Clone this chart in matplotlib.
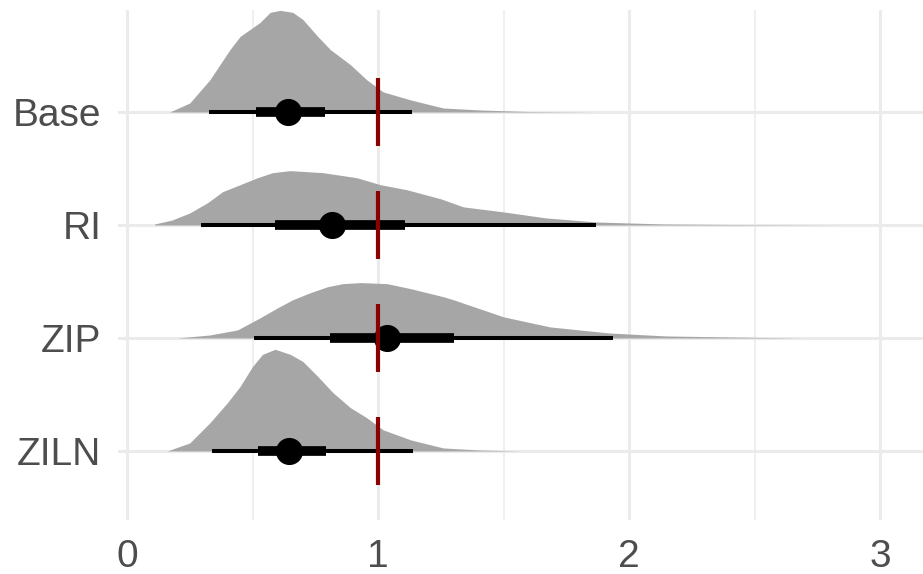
import numpy as np
import matplotlib
matplotlib.use("Agg")
import matplotlib.pyplot as plt

plt.rcParams["font.family"] = ["Liberation Sans", "DejaVu Sans"]

models = ["Base", "RI", "ZIP", "ZILN"]

# density curves (x, relative height)
base_x = [0.17, 0.25, 0.33, 0.41, 0.45, 0.49, 0.53, 0.57, 0.61, 0.66, 0.70, 0.76,
          0.81, 0.89, 0.955, 1.02, 1.13, 1.26, 1.41, 1.60, 1.87]
base_d = [0, 9, 32, 62, 75, 82, 89, 99, 101, 99, 92, 75, 62, 47, 32, 20, 12, 4, 2, 0.5, 0]

ri_x = [0.11, 0.18, 0.25, 0.32, 0.38, 0.45, 0.52, 0.58, 0.65, 0.78, 0.915, 1.01,
        1.115, 1.25, 1.34, 1.50, 1.67, 1.87, 2.14, 2.40, 2.85]
ri_d = [1, 5, 12, 22, 33, 40, 47, 52, 54, 52, 47, 40, 35, 26, 18, 13, 7, 3, 1, 0.5, 0]

zip_x = [0.20, 0.33, 0.44, 0.53, 0.60, 0.66, 0.73, 0.80, 0.86, 0.93, 1.035, 1.13,
         1.26, 1.30, 1.50, 1.685, 1.92, 2.15, 2.48, 2.70]
zip_d = [0, 3, 8, 20, 30, 38, 45, 51, 54, 55, 54, 49, 41, 38, 21, 11, 5, 2, 0.7, 0]

ziln_x = [0.16, 0.25, 0.33, 0.40, 0.45, 0.50, 0.54, 0.59, 0.65, 0.70, 0.76, 0.82,
          0.89, 0.955, 1.02, 1.13, 1.26, 1.40, 1.57]
ziln_d = [0, 8, 28, 48, 64, 84, 96, 101, 96, 89, 74, 58, 43, 33, 21, 11, 3, 1, 0]

# point estimate, 66% and 95% intervals
medians = [0.641, 0.817, 1.035, 0.645]
lo66 = [0.514, 0.590, 0.809, 0.522]
hi66 = [0.789, 1.108, 1.303, 0.793]
lo95 = [0.327, 0.295, 0.506, 0.339]
hi95 = [1.135, 1.868, 1.937, 1.139]

dens_x = [base_x, ri_x, zip_x, ziln_x]
dens_d = [base_d, ri_d, zip_d, ziln_d]
ypos = [4, 3, 2, 1]

fig = plt.figure(figsize=(9.23, 5.74), dpi=100)
ax = fig.add_axes([118 / 923, 54 / 574, 805 / 923, 510 / 574])

dmax = max(max(d) for d in dens_d)
for i in range(len(models)):
    y0 = ypos[i]
    h = np.array(dens_d[i]) / dmax * 0.9
    ax.fill_between(dens_x[i], y0, y0 + h, color="#A6A6A6", lw=0, zorder=2)
    ax.plot([lo95[i], hi95[i]], [y0, y0], color="black", lw=2.9,
            solid_capstyle="butt", zorder=3)
    ax.plot([lo66[i], hi66[i]], [y0, y0], color="black", lw=7,
            solid_capstyle="butt", zorder=3)
    ax.plot(medians[i], y0, "o", color="black", ms=18.5, zorder=4)
    ax.plot([1, 1], [y0 - 0.3, y0 + 0.3], color="#8B0000", lw=3,
            solid_capstyle="butt", zorder=5)

ax.set_xlim(-0.036, 3.171)
ax.set_ylim(0.389, 4.903)
ax.set_xticks([0, 1, 2, 3])
ax.set_xticks([0.5, 1.5, 2.5], minor=True)
ax.set_yticks(ypos)
ax.set_yticklabels(models)

ax.grid(which="major", color="#EBEBEB", lw=2.2, zorder=0)
ax.grid(which="minor", axis="x", color="#EBEBEB", lw=1.1, zorder=0)
ax.set_axisbelow(True)
for s in ax.spines.values():
    s.set_visible(False)
ax.tick_params(which="both", length=0, labelsize=28, colors="#4D4D4D")
ax.tick_params(axis="y", pad=12)
ax.tick_params(axis="x", pad=14)

fig.savefig("out.png", dpi=100)
